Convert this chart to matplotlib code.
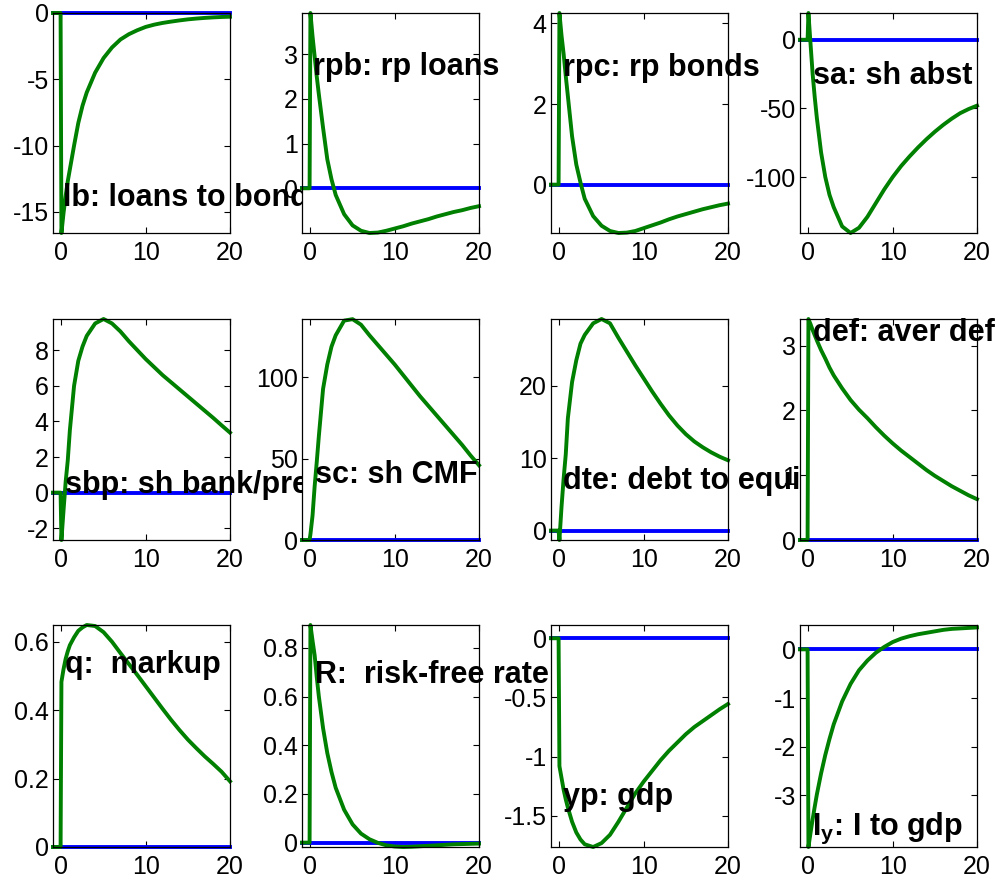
import numpy as np
import matplotlib
matplotlib.use("Agg")
from matplotlib import pyplot as plt
from matplotlib.ticker import FormatStrFormatter

plt.rcParams['font.family'] = ['Liberation Sans', 'DejaVu Sans']
plt.rcParams['mathtext.fontset'] = 'custom'
plt.rcParams['mathtext.bf'] = 'Liberation Sans:bold'
plt.rcParams['mathtext.rm'] = 'Liberation Sans'

## time grid (quarters after the shock)
t = [-1, -0.1, 0, 0.25, 0.5, 0.75, 1, 1.5, 2, 2.5, 3, 4, 5, 6, 7, 8, 9, 10,
     11, 12, 13, 14, 15, 16, 17, 18, 19, 20]
t_ss = [-1, 20]
ss = [0, 0]

lb = [0, 0, -16.6, -15.1, -13.8, -12.7, -11.8, -10.0, -8.3, -7.0, -6.0, -4.5, -3.4,
      -2.6, -2.0, -1.6, -1.3, -1.05, -0.88, -0.75, -0.65, -0.56, -0.48, -0.42,
      -0.37, -0.33, -0.30, -0.28]
rpb = [0, 0, 3.92, 3.4, 2.95, 2.5, 2.1, 1.35, 0.65, 0.2, -0.15, -0.58, -0.83,
       -0.95, -1.0, -0.99, -0.95, -0.9, -0.85, -0.79, -0.74, -0.69, -0.63, -0.58,
       -0.53, -0.49, -0.44, -0.40]
rpc = [0, 0, 4.26, 3.7, 3.24, 2.7, 2.2, 1.2, 0.5, 0.05, -0.35, -0.78, -1.02,
       -1.15, -1.2, -1.19, -1.15, -1.08, -1.01, -0.94, -0.86, -0.79, -0.73, -0.67,
       -0.61, -0.56, -0.51, -0.47]
sa = [0, 0, 19.5, -3, -25, -42, -57, -82, -100, -113, -122, -136, -140.8, -137,
      -129, -119, -109, -100, -92, -85, -78.5, -72.5, -67, -62, -57.5, -53.5,
      -50.5, -48]
sbp = [0, 0, -2.66, -1.0, 0.6, 1.8, 3.5, 6.0, 7.4, 8.2, 8.8, 9.5, 9.75, 9.5,
       9.05, 8.5, 8.0, 7.5, 7.05, 6.6, 6.2, 5.8, 5.4, 5.0, 4.6, 4.2, 3.78, 3.37]
sc = [0, 0, 3.5, 15, 33, 48, 64, 93, 108, 119, 126, 135.0, 135.9, 132.5, 126,
      120, 114, 108, 101.5, 95, 88.5, 82.5, 76.5, 70.5, 64.5, 58.5, 52, 46]
dte = [0, 0, -1.3, 3.3, 7.2, 10.5, 15.5, 20.5, 23.5, 25.8, 27.0, 28.6, 29.2,
       28.6, 26.6, 24.7, 22.8, 21.0, 19.2, 17.5, 15.9, 14.5, 13.3, 12.3, 11.5,
       10.8, 10.2, 9.7]
dflt = [0, 0, 3.41, 3.33, 3.24, 3.16, 3.08, 2.93, 2.80, 2.66, 2.54, 2.34, 2.16,
        2.01, 1.88, 1.74, 1.61, 1.49, 1.38, 1.28, 1.18, 1.08, 0.99, 0.91, 0.83,
        0.76, 0.69, 0.63]
q = [0, 0, 0.483, 0.52, 0.55, 0.572, 0.59, 0.613, 0.632, 0.642, 0.649, 0.646,
     0.628, 0.6, 0.567, 0.535, 0.503, 0.47, 0.437, 0.404, 0.372, 0.342, 0.314,
     0.289, 0.265, 0.243, 0.22, 0.192]
R = [0, 0, 0.894, 0.83, 0.77, 0.68, 0.6, 0.47, 0.368, 0.29, 0.225, 0.135, 0.075,
     0.037, 0.014, -0.001, -0.011, -0.016, -0.018, -0.017, -0.015, -0.013,
     -0.011, -0.009, -0.007, -0.006, -0.005, -0.004]
yp = [0, 0, -1.08, -1.18, -1.28, -1.36, -1.43, -1.55, -1.64, -1.70, -1.74,
      -1.763, -1.73, -1.66, -1.55, -1.43, -1.31, -1.21, -1.12, -1.03, -0.95,
      -0.88, -0.81, -0.75, -0.70, -0.65, -0.60, -0.555]
Iy = [0, 0, -4.06, -3.77, -3.49, -3.23, -2.98, -2.55, -2.17, -1.84, -1.54, -1.07,
      -0.71, -0.43, -0.23, -0.07, 0.05, 0.15, 0.22, 0.27, 0.31, 0.34, 0.37, 0.40,
      0.42, 0.43, 0.44, 0.45]

series = [lb, rpb, rpc, sa, sbp, sc, dte, dflt, q, R, yp, Iy]
labels = ['lb: loans to bonds', 'rpb: rp loans', 'rpc: rp bonds', 'sa: sh abst',
          'sbp: sh bank/pres', 'sc: sh CMF', 'dte: debt to equity', 'def: aver def',
          'q:  markup', 'R:  risk-free rate', 'yp: gdp', r'$\mathbf{I_y}$: I to gdp']
yticks = [[-15, -10, -5, 0], [0, 1, 2, 3], [0, 2, 4], [-100, -50, 0],
          [-2, 0, 2, 4, 6, 8], [0, 50, 100], [0, 10, 20], [0, 1, 2, 3],
          [0, 0.2, 0.4, 0.6], [0, 0.2, 0.4, 0.6, 0.8], [-1.5, -1, -0.5, 0],
          [-3, -2, -1, 0]]
ylims = [(-16.6, 0), (-1.0, 3.92), (-1.2, 4.26), (-140.8, 19.5), (-2.66, 9.75),
         (0, 136), (-1.3, 29.2), (0, 3.41), (0, 0.649), (-0.018, 0.894),
         (-1.763, 0.112), (-4.06, 0.5)]
## text position in axes fraction
txtpos = [(0.056, 0.123), (0.062, 0.718), (0.07, 0.715), (0.075, 0.675),
          (0.068, 0.213), (0.073, 0.257), (0.07, 0.229), (0.075, 0.90),
          (0.068, 0.785), (0.073, 0.737), (0.07, 0.189), (0.066, 0.054)]

W, H = 1008, 884
fig = plt.figure(figsize=(W / 100, H / 100), dpi=100)
col_left = [53, 302, 551, 800]
row_top = [13, 319, 625]
row_h = [220, 221, 222]
aw = 177

for i in range(12):
    r, c = divmod(i, 4)
    ax = fig.add_axes([col_left[c] / W, 1 - (row_top[r] + row_h[r]) / H,
                       aw / W, row_h[r] / H])
    ax.plot(t_ss, ss, color='#0000ff', lw=2.8, clip_on=False)
    ax.plot(t, series[i], color='#008000', lw=2.8, clip_on=False)
    ax.set_xlim(-1, 20)
    ax.set_ylim(*ylims[i])
    ax.set_xticks([0, 10, 20])
    ax.set_yticks(yticks[i])
    ax.yaxis.set_major_formatter(FormatStrFormatter('%g'))
    ax.tick_params(direction='in', top=True, right=True, length=4, width=0.8,
                   labelsize=18)
    ax.tick_params(axis='x', pad=6)
    ax.tick_params(axis='y', pad=3)
    for s in ax.spines.values():
        s.set_linewidth(0.9)
    ax.text(txtpos[i][0], txtpos[i][1], labels[i], transform=ax.transAxes,
            fontsize=22, fontweight='bold', va='baseline', ha='left',
            clip_on=False)

plt.savefig('out.png', dpi=100)
